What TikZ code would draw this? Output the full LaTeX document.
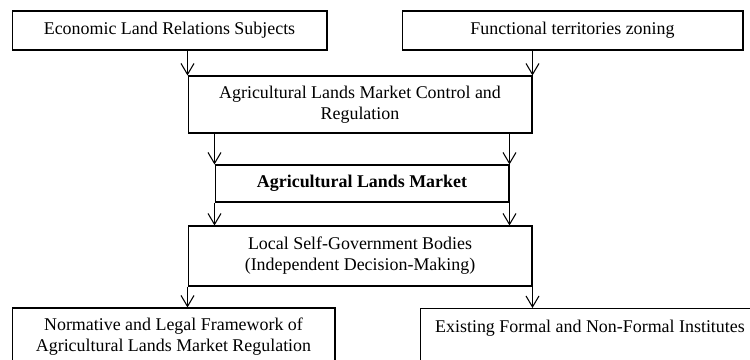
\documentclass[tikz,border=0pt]{standalone}
\usepackage{fontspec}
\setmainfont{Liberation Serif}
\usetikzlibrary{arrows.meta}

\begin{document}
\begin{tikzpicture}
	[x=0.02cm,y=-0.02cm,line width=0.6pt,
	box/.style={draw,inner sep=0pt,align=center,font=\fontsize{10.2pt}{12pt}\selectfont},
	>={Straight Barb[length=2.2mm,width=2.6mm,line width=0.6pt]}]
	\useasboundingbox (0,0) rectangle (750,359);
	\clip (0,0) rectangle (750,359);
	\node[box,minimum width=6.3cm,minimum height=0.78cm] (econ) at (169.5,30.5) {Economic Land Relations Subjects};
	\node[box,minimum width=6.82cm,minimum height=0.78cm] (zone) at (572.5,30.5) {Functional territories zoning};
	\node[box,minimum width=6.88cm,minimum height=1.14cm] (ctrl) at (360,104.5) {Agricultural Lands Market Control and\\Regulation};
	\node[box,minimum width=5.88cm,minimum height=0.74cm] (mkt) at (362,183.5) {\bfseries Agricultural Lands Market};
	\node[box,minimum width=6.88cm,minimum height=1.2cm] (local) at (360,256) {Local Self-Government Bodies\\(Independent Decision-Making)};
	\node[box,minimum width=6.46cm,minimum height=1.16cm] (norm) at (173.5,337) {Normative and Legal Framework of\\Agricultural Lands Market Regulation};
	\node[box,minimum width=6.8cm,anchor=north,text height=13.6pt,text depth=25pt] (inst) at (590,308) {Existing Formal and Non-Formal Institutes};
	\foreach \from/\to in {econ.south -| ctrl.north west/ctrl.north west,zone.south -| ctrl.north east/ctrl.north east,
		ctrl.south -| mkt.north west/mkt.north west,ctrl.south -| mkt.north east/mkt.north east,
		mkt.south west/mkt.south west |- local.north,mkt.south east/mkt.south east |- local.north,
		local.south west/local.south west |- norm.north,local.south east/local.south east |- inst.north}
	\draw[->] (\from) -- (\to);
\end{tikzpicture}
\end{document}
